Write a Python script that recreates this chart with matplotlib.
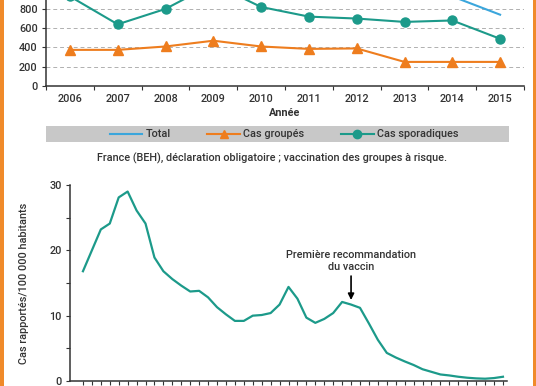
import matplotlib.pyplot as plt
from matplotlib.lines import Line2D
from matplotlib.patches import Rectangle
from matplotlib.ticker import MultipleLocator

# Données - graphique du haut (France, BEH)
annees = [2006, 2007, 2008, 2009, 2010, 2011, 2012, 2013, 2014, 2015]
total = [1295, 1015, 1210, 1530, 1230, 1105, 1090, 915, 930, 740]
cas_groupes = [375, 375, 410, 470, 410, 385, 390, 250, 250, 250]
cas_sporadiques = [930, 640, 800, 1060, 820, 720, 700, 665, 680, 490]

# Données - graphique du bas (cas rapportés / 100 000 habitants)
annees_bas = list(range(1966, 2014))
taux = [16.8, 20.0, 23.2, 24.1, 28.1, 29.0, 26.1, 24.1, 18.9, 16.8,
        15.6, 14.6, 13.7, 13.8, 12.8, 11.3, 10.2, 9.2, 9.2, 10.0,
        10.1, 10.4, 11.7, 14.4, 12.6, 9.7, 8.9, 9.5, 10.4, 12.1,
        11.7, 11.2, 8.8, 6.3, 4.3, 3.6, 3.0, 2.45, 1.8, 1.4,
        1.0, 0.85, 0.65, 0.5, 0.4, 0.35, 0.45, 0.65]
annee_vaccin = 1996

bleu = '#3ba6dc'
orange = '#ee7d1e'
vert = '#1c9a8a'
gris_txt = '#333333'

plt.rcParams['font.family'] = ['Roboto', 'DejaVu Sans']
plt.rcParams['font.size'] = 7.8
plt.rcParams['font.weight'] = 'medium'
plt.rcParams['text.color'] = gris_txt
plt.rcParams['axes.labelcolor'] = gris_txt
plt.rcParams['xtick.color'] = gris_txt
plt.rcParams['ytick.color'] = gris_txt

W, H = 536, 386
fig = plt.figure(figsize=(W / 100, H / 100), dpi=100)
fig.patch.set_facecolor('white')

def fx(px):
    return px / W

def fy(py):
    return 1 - py / H

#%% Graphique du haut
ax1 = fig.add_axes([fx(46), fy(86), fx(478), 106 / H])
ax1.plot(annees, total, color=bleu, lw=1.5)
ax1.plot(annees, cas_groupes, color=orange, lw=1.5, marker='^', ms=6.5)
ax1.plot(annees, cas_sporadiques, color=vert, lw=1.5, marker='o', ms=6.5)
ax1.set_xlim(2005.5, 2015.5)
ax1.set_ylim(0, 1100)
ax1.set_yticks([0, 200, 400, 600, 800])
ax1.set_xticks(annees)
ax1.xaxis.set_minor_locator(MultipleLocator(1, offset=0.5))
ax1.tick_params(axis='x', which='major', length=0, pad=6)
ax1.tick_params(axis='x', which='minor', length=3, width=0.8, direction='out')
ax1.tick_params(axis='y', length=3, width=0.8, pad=3)
ax1.grid(axis='y', ls=(0, (4, 3)), color='#b0b0b0', lw=0.7)
ax1.set_axisbelow(True)
for s in ['top', 'right']:
    ax1.spines[s].set_visible(False)
for s in ['left', 'bottom']:
    ax1.spines[s].set_color('#333333')
    ax1.spines[s].set_linewidth(1.1)
ax1.set_xlabel('Année', fontweight='bold', labelpad=3)

# Légende sur bandeau gris
fig.patches.append(Rectangle((fx(46), fy(142)), fx(463), 16 / H,
                             transform=fig.transFigure, facecolor='#c8c8c8',
                             edgecolor='none', zorder=0))
poignees = [Line2D([], [], color=bleu, lw=1.5),
            Line2D([], [], color=orange, lw=1.5, marker='^', ms=6),
            Line2D([], [], color=vert, lw=1.5, marker='o', ms=6)]
fig.legend(poignees, ['Total', 'Cas groupés', 'Cas sporadiques'], ncol=3,
           loc='center', bbox_to_anchor=(fx(284), fy(134.5)), frameon=False,
           handlelength=3.0, handletextpad=0.3, columnspacing=3.4)

fig.text(fx(272), fy(158), 'France (BEH), déclaration obligatoire ; vaccination des groupes à risque.',
         ha='center', va='center')

#%% Graphique du bas
ax2 = fig.add_axes([fx(70), fy(381), fx(437), 196 / H])
ax2.plot(annees_bas, taux, color=vert, lw=1.6)
ax2.set_xlim(annees_bas[0] - 1.45, annees_bas[-1] + 0.45)
ax2.set_ylim(0, 30)
ax2.set_xticks(annees_bas)
ax2.yaxis.set_major_locator(MultipleLocator(10))
ax2.yaxis.set_minor_locator(MultipleLocator(5))
ax2.tick_params(axis='x', length=3, width=0.8, labelbottom=False)
ax2.tick_params(axis='y', which='both', length=3, width=0.8, pad=3)
for s in ['top', 'right']:
    ax2.spines[s].set_visible(False)
for s in ['left', 'bottom']:
    ax2.spines[s].set_color('#333333')
    ax2.spines[s].set_linewidth(1.1)
fig.text(fx(24), fy(283), 'Cas rapportés/100 000 habitants', rotation=90,
         ha='center', va='center')

val_vaccin = taux[annees_bas.index(annee_vaccin)]
ax2.annotate('Première recommandation\ndu vaccin',
             xy=(annee_vaccin, val_vaccin + 0.7), xytext=(annee_vaccin, 16.7),
             ha='center', va='bottom', multialignment='center', linespacing=1.25,
             arrowprops=dict(arrowstyle='-|>', color='black', lw=1.2,
                             mutation_scale=9, shrinkA=1, shrinkB=0))

# Bordures orange
fig.patches.append(Rectangle((0, 0), fx(3.5), 1, transform=fig.transFigure,
                             facecolor='#f08a2a', edgecolor='none'))
fig.patches.append(Rectangle((fx(533), 0), fx(3), 1, transform=fig.transFigure,
                             facecolor='#f08a2a', edgecolor='none'))

fig.savefig('out.png', dpi=100)
